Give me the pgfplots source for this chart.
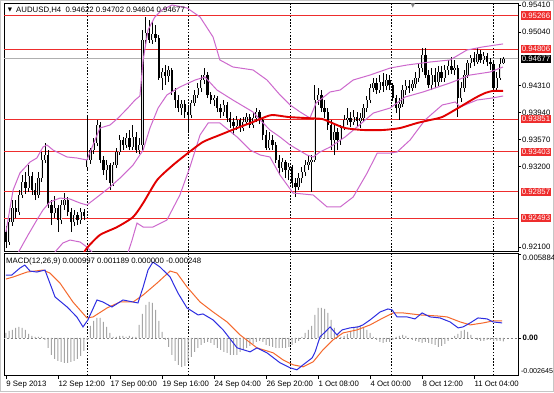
\documentclass[border=0pt]{standalone}
\usepackage{fontspec}
\setmainfont{Liberation Sans}
\newfontfamily\symfont{DejaVu Sans}
\usepackage{pgfplots}
\usepackage{pgfplotstable}
\pgfplotsset{compat=1.18}
\definecolor{bb}{RGB}{205,105,205}
\definecolor{ma}{RGB}{225,0,0}
\definecolor{lvl}{RGB}{238,45,45}
\definecolor{macdblue}{RGB}{45,45,225}
\definecolor{sig}{RGB}{245,105,45}
\definecolor{hist}{RGB}{165,165,165}
\definecolor{bidgray}{RGB}{175,175,175}
\newcommand{\lab}{\fontsize{7.8}{9}\selectfont}

\pgfplotstableread{
i o h l c
0 0.92305 0.92387 0.92086 0.92168
1 0.92168 0.92496 0.92127 0.92441
2 0.92441 0.92742 0.92387 0.92633
3 0.92633 0.92742 0.92496 0.92578
4 0.92578 0.92879 0.92537 0.92811
5 0.92811 0.93084 0.92769 0.92989
6 0.92989 0.93125 0.92824 0.92907
7 0.92907 0.93221 0.92852 0.93071
8 0.93071 0.93125 0.92811 0.92879
9 0.92879 0.92975 0.92742 0.92811
10 0.92811 0.93125 0.92769 0.93043
11 0.93043 0.93399 0.92989 0.93290
12 0.93290 0.93522 0.93249 0.93358
13 0.93358 0.93426 0.92633 0.92674
14 0.92674 0.92742 0.92400 0.92564
15 0.92564 0.92797 0.92496 0.92633
16 0.92633 0.92674 0.92305 0.92469
17 0.92469 0.92742 0.92414 0.92674
18 0.92674 0.92838 0.92606 0.92742
19 0.92742 0.92783 0.92523 0.92578
20 0.92578 0.92633 0.92305 0.92441
21 0.92441 0.92606 0.92387 0.92537
22 0.92537 0.92578 0.92400 0.92469
23 0.92469 0.92633 0.92414 0.92578
24 0.92578 0.92619 0.92469 0.92523
25 0.93194 0.93878 0.93153 0.93290
26 0.93290 0.93454 0.93235 0.93426
27 0.93426 0.93591 0.93372 0.93522
28 0.93522 0.93837 0.93481 0.93768
29 0.93768 0.93809 0.93249 0.93290
30 0.93290 0.93344 0.93084 0.93153
31 0.93153 0.93290 0.93016 0.93221
32 0.93221 0.93249 0.92879 0.92975
33 0.92975 0.93262 0.92934 0.93221
34 0.93221 0.93454 0.93180 0.93399
35 0.93399 0.93632 0.93358 0.93563
36 0.93563 0.93604 0.93426 0.93495
37 0.93495 0.93659 0.93454 0.93591
38 0.93591 0.93700 0.93426 0.93467
39 0.93467 0.93768 0.93426 0.93604
40 0.93604 0.93673 0.93385 0.93426
41 0.93426 0.93591 0.93372 0.93495
42 0.93495 0.95068 0.93426 0.94931
43 0.94931 0.95246 0.94863 0.95027
44 0.95027 0.95205 0.94890 0.94931
45 0.94931 0.95177 0.94877 0.95013
46 0.95013 0.95136 0.94904 0.94959
47 0.94959 0.95000 0.94384 0.94411
48 0.94411 0.94548 0.94247 0.94493
49 0.94493 0.94589 0.94316 0.94439
50 0.94439 0.94575 0.94357 0.94521
51 0.94521 0.94548 0.94179 0.94220
52 0.94220 0.94274 0.94001 0.94110
53 0.94110 0.94179 0.93946 0.94001
54 0.94001 0.94110 0.93905 0.94056
55 0.94056 0.94110 0.93864 0.93946
56 0.93946 0.94042 0.93673 0.93905
57 0.93905 0.94110 0.93864 0.94069
58 0.94069 0.94247 0.94028 0.94179
59 0.94179 0.94343 0.94137 0.94274
60 0.94274 0.94452 0.94220 0.94384
61 0.94384 0.94548 0.94329 0.94452
62 0.94452 0.94493 0.94137 0.94179
63 0.94179 0.94220 0.94056 0.94110
64 0.94110 0.94179 0.94028 0.94137
65 0.94137 0.94165 0.93946 0.94001
66 0.94001 0.94056 0.93864 0.93946
67 0.93946 0.94110 0.93892 0.94042
68 0.94042 0.94083 0.93809 0.93864
69 0.93864 0.93946 0.93727 0.93809
70 0.93809 0.93864 0.93632 0.93755
71 0.93755 0.93892 0.93700 0.93837
72 0.93837 0.93864 0.93673 0.93727
73 0.93727 0.93878 0.93686 0.93809
74 0.93809 0.93932 0.93768 0.93878
75 0.93878 0.93919 0.93727 0.93768
76 0.93768 0.93946 0.93727 0.93864
77 0.93864 0.94001 0.93809 0.93946
78 0.93946 0.93974 0.93782 0.93837
79 0.93837 0.93864 0.93563 0.93632
80 0.93632 0.93700 0.93426 0.93454
81 0.93454 0.93673 0.93426 0.93563
82 0.93563 0.93632 0.93426 0.93495
83 0.93495 0.93536 0.93249 0.93290
84 0.93290 0.93358 0.93084 0.93180
85 0.93180 0.93317 0.93125 0.93262
86 0.93262 0.93290 0.93043 0.93153
87 0.93153 0.93249 0.93016 0.93194
88 0.93194 0.93221 0.92907 0.92975
89 0.92975 0.93043 0.92783 0.92920
90 0.92920 0.93112 0.92879 0.93043
91 0.93043 0.93194 0.92975 0.93125
92 0.93125 0.93290 0.93071 0.93221
93 0.93221 0.93358 0.93153 0.93262
94 0.93262 0.93358 0.92852 0.93290
95 0.93290 0.94316 0.93262 0.94110
96 0.94110 0.94274 0.94042 0.94179
97 0.94179 0.94247 0.93946 0.94001
98 0.94001 0.94110 0.93864 0.93946
99 0.93946 0.94001 0.93700 0.93768
100 0.93768 0.93837 0.93426 0.93563
101 0.93563 0.93768 0.93358 0.93673
102 0.93673 0.93727 0.93426 0.93563
103 0.93563 0.93768 0.93495 0.93727
104 0.93727 0.93905 0.93700 0.93837
105 0.93837 0.94001 0.93768 0.93864
106 0.93864 0.93946 0.93741 0.93809
107 0.93809 0.93974 0.93768 0.93878
108 0.93878 0.93946 0.93755 0.93823
109 0.93823 0.93932 0.93727 0.93864
110 0.93864 0.94056 0.93809 0.94001
111 0.94001 0.94165 0.93946 0.94110
112 0.94110 0.94329 0.94069 0.94274
113 0.94274 0.94411 0.94220 0.94343
114 0.94343 0.94411 0.94192 0.94247
115 0.94247 0.94452 0.94206 0.94357
116 0.94357 0.94480 0.94220 0.94302
117 0.94302 0.94466 0.94247 0.94384
118 0.94384 0.94452 0.94247 0.94316
119 0.94316 0.94343 0.94097 0.94137
120 0.94137 0.94179 0.93932 0.94001
121 0.94001 0.94137 0.93837 0.94056
122 0.94056 0.94316 0.94015 0.94247
123 0.94247 0.94384 0.94179 0.94302
124 0.94302 0.94384 0.94206 0.94274
125 0.94274 0.94384 0.94233 0.94329
126 0.94329 0.94493 0.94274 0.94411
127 0.94411 0.94603 0.94357 0.94548
128 0.94548 0.94822 0.94493 0.94726
129 0.94726 0.94822 0.94411 0.94452
130 0.94452 0.94521 0.94274 0.94316
131 0.94316 0.94548 0.94247 0.94452
132 0.94452 0.94548 0.94274 0.94357
133 0.94357 0.94575 0.94302 0.94493
134 0.94493 0.94575 0.94357 0.94411
135 0.94411 0.94589 0.94357 0.94521
136 0.94521 0.94658 0.94452 0.94575
137 0.94575 0.94699 0.94466 0.94521
138 0.94521 0.94658 0.94452 0.94548
139 0.94548 0.94589 0.93878 0.94137
140 0.94137 0.94357 0.94083 0.94274
141 0.94274 0.94521 0.94220 0.94452
142 0.94452 0.94658 0.94411 0.94617
143 0.94617 0.94726 0.94548 0.94685
144 0.94685 0.94767 0.94575 0.94630
145 0.94630 0.94822 0.94603 0.94740
146 0.94740 0.94794 0.94617 0.94658
147 0.94658 0.94767 0.94603 0.94712
148 0.94712 0.94753 0.94575 0.94630
149 0.94630 0.94685 0.94521 0.94603
150 0.94603 0.94658 0.94220 0.94274
151 0.94274 0.94493 0.94247 0.94411
152 0.94411 0.94685 0.94384 0.94603
153 0.94622 0.94702 0.94604 0.94677
}\candles

\pgfplotstableread{
i p
0 0.92305
2.2 0.92879
4.3 0.93112
7.4 0.93262
9.5 0.93317
11.4 0.93467
12.6 0.93495
14.5 0.93426
18.8 0.93331
21.8 0.93317
24.9 0.93290
27.4 0.93563
28.9 0.93727
32 0.93768
34.5 0.93864
37.5 0.94001
39.7 0.94110
41.2 0.94165
42.2 0.94658
43.7 0.95068
45.8 0.95246
48 0.95342
51.1 0.95410
55.7 0.95369
59.7 0.95246
63.7 0.94972
65.8 0.94658
69.8 0.94562
76 0.94521
80.3 0.94384
84.3 0.94179
87.4 0.94042
90.5 0.93946
93.5 0.93864
95.4 0.94069
99.7 0.94220
102.8 0.94247
106.8 0.94384
112 0.94452
118.2 0.94548
123.4 0.94589
130.5 0.94630
136.6 0.94658
141.8 0.94794
146.5 0.94835
152.9 0.94877
}\bbupper

\pgfplotstableread{
i p
3.7 0.92017
6.8 0.92264
9.5 0.92469
11.4 0.92606
13.5 0.92715
16.6 0.92769
19.7 0.92756
22.8 0.92701
24.9 0.92674
28.9 0.92811
32 0.92920
35.1 0.93043
39.1 0.93221
42.2 0.93426
44.3 0.93727
46.8 0.94001
49.5 0.94179
53.5 0.94288
58.2 0.94384
61.2 0.94425
64.9 0.94247
69.8 0.94110
76 0.93946
78.2 0.93837
81.2 0.93700
84.3 0.93604
87.4 0.93495
92.6 0.93358
94.5 0.93331
96.6 0.93399
99.7 0.93467
104.3 0.93604
108 0.93741
113 0.93932
118.2 0.94001
122.8 0.94151
128.3 0.94220
136.6 0.94343
142.8 0.94452
148.9 0.94493
152.9 0.94562
}\bbmiddle

\pgfplotstableread{
i p
13.5 0.91900
14.8 0.92017
17.5 0.92154
19.7 0.92195
22.8 0.92168
24.9 0.92099
26.8 0.92017
30 0.91950
36 0.91950
37.5 0.92017
38.8 0.92195
40.3 0.92427
42.2 0.92373
45.2 0.92373
49.5 0.92469
53.5 0.92811
56.6 0.93194
59.7 0.93632
62.2 0.93796
65.8 0.93796
71.1 0.93604
75.1 0.93426
78.2 0.93358
81.2 0.93331
84.3 0.93084
88.3 0.92838
94.5 0.92811
98.8 0.92647
102.8 0.92647
106.8 0.92783
111.1 0.93112
114.2 0.93385
118.2 0.93385
120.3 0.93399
124.3 0.93563
128.9 0.93837
134.2 0.94042
138.2 0.94083
139.7 0.94015
144.9 0.94110
149.5 0.94137
152.9 0.94165
}\bblower

\pgfplotstableread{
i p
23.5 0.91980
24.9 0.92086
28.9 0.92264
34.2 0.92373
39.1 0.92510
42.2 0.92701
46.5 0.93016
51.4 0.93221
56 0.93385
60.6 0.93536
65.8 0.93632
71.1 0.93727
76 0.93810
78.2 0.93851
81.8 0.93905
86.8 0.93878
92 0.93864
97.2 0.93851
100.3 0.93796
104.3 0.93727
109.8 0.93700
116 0.93700
121.2 0.93727
126.5 0.93796
130.5 0.93837
134.2 0.93878
139.1 0.94001
144.3 0.94138
147.4 0.94206
149.8 0.94234
152.9 0.94234
}\mavg

\pgfplotstableread{
i v
0 0.00440
1.8 0.00441
4.3 0.00490
5.8 0.00511
7.4 0.00469
9.5 0.00462
12 0.00476
13.5 0.00385
15.1 0.00287
18.8 0.00217
21.8 0.00147
23.7 0.00077
25.2 0.00126
28 0.00266
29.8 0.00252
32.6 0.00217
36 0.00266
40.6 0.00245
42.2 0.00357
43.7 0.00476
45.2 0.00532
47.4 0.00497
50.5 0.00427
52.9 0.00315
55.7 0.00210
59.1 0.00161
60.6 0.00168
63.7 0.00126
66.8 0.00056
71.1 -0.00070
75.1 -0.00098
77.2 -0.00070
80.3 -0.00105
84.3 -0.00175
87.4 -0.00210
89.5 -0.00224
91.4 -0.00189
94.2 -0.00140
95.1 -0.00098
96.6 0.00007
98.2 0.00042
99.7 0.00077
101.8 0.00021
103.4 0.00056
105.8 0.00070
108.3 0.00077
109.8 0.00091
112 0.00126
115.1 0.00182
117.5 0.00203
118.8 0.00196
120.3 0.00147
123.4 0.00147
125.8 0.00133
128 0.00175
130.5 0.00147
133.5 0.00140
136.6 0.00112
139.1 0.00070
140.6 0.00077
142.8 0.00105
145.2 0.00140
148 0.00133
149.8 0.00112
152.6 0.00105
}\macdmain

\pgfplotstableread{
i v
0 0.00413
2.2 0.00427
6.5 0.00462
11.4 0.00476
13.5 0.00455
16.6 0.00385
20.6 0.00252
24.9 0.00140
26.8 0.00147
31.1 0.00210
35.1 0.00252
39.1 0.00252
42.2 0.00301
46.5 0.00385
50.5 0.00469
52.6 0.00455
55.7 0.00357
59.7 0.00252
63.7 0.00182
68 0.00112
72 0.00021
77.2 -0.00070
82.2 -0.00105
85.2 -0.00154
88.3 -0.00189
91.4 -0.00203
94.5 -0.00168
97.5 -0.00084
100.6 -0.00014
103.7 0.00035
108 0.00056
112 0.00091
116 0.00140
119.1 0.00175
122.2 0.00175
127.4 0.00161
132.6 0.00154
135.7 0.00147
139.7 0.00112
142.8 0.00091
146.8 0.00105
149.8 0.00119
152.6 0.00119
}\macdsig

\pgfplotstableread{
i v
0 0.00035
1 0.00049
2 0.00056
3 0.00070
4 0.00077
5 0.00070
6 0.00056
7 0.00028
8 0.00014
9 0.00007
10 0.00007
11 0.00007
12 -0.00014
13 -0.00070
14 -0.00119
15 -0.00147
16 -0.00161
17 -0.00168
18 -0.00175
19 -0.00175
20 -0.00168
21 -0.00161
22 -0.00147
23 -0.00126
24 -0.00091
25 -0.00014
26 0.00084
27 0.00119
28 0.00140
29 0.00140
30 0.00112
31 0.00077
32 0.00035
33 0.00007
34 0.00007
35 0.00014
36 0.00014
37 0.00007
38 0.00014
39 0.00007
40 0.00007
41 0.00091
42 0.00168
43 0.00231
44 0.00252
45 0.00245
46 0.00196
47 0.00119
48 0.00042
49 -0.00014
50 -0.00063
51 -0.00119
52 -0.00161
53 -0.00189
54 -0.00203
55 -0.00196
56 -0.00168
57 -0.00133
58 -0.00098
59 -0.00070
60 -0.00049
61 -0.00035
62 -0.00028
63 -0.00035
64 -0.00049
65 -0.00070
66 -0.00084
67 -0.00098
68 -0.00105
69 -0.00119
70 -0.00119
71 -0.00119
72 -0.00098
73 -0.00084
74 -0.00070
75 -0.00056
76 -0.00042
77 -0.00028
78 -0.00021
79 -0.00028
80 -0.00049
81 -0.00056
82 -0.00063
83 -0.00070
84 -0.00070
85 -0.00070
86 -0.00070
87 -0.00063
88 -0.00049
89 -0.00035
90 -0.00021
91 0.00007
92 0.00035
93 0.00056
94 0.00084
95 0.00161
96 0.00210
97 0.00210
98 0.00203
99 0.00175
100 0.00126
101 0.00070
102 0.00028
103 0.00007
104 0.00014
105 0.00028
106 0.00049
107 0.00070
108 0.00084
109 0.00084
110 0.00070
111 0.00056
112 0.00035
113 0.00007
114 -0.00014
115 -0.00028
116 -0.00035
117 -0.00028
118 -0.00028
119 -0.00014
120 0.00007
121 0.00014
122 0.00021
123 0.00014
124 0.00000
125 -0.00014
126 -0.00021
127 -0.00028
128 -0.00035
129 -0.00028
130 -0.00035
131 -0.00042
132 -0.00049
133 -0.00063
134 -0.00056
135 -0.00042
136 -0.00021
137 0.00000
138 0.00014
139 0.00028
140 0.00049
141 0.00056
142 0.00042
143 0.00021
144 0.00000
145 -0.00014
146 -0.00021
147 -0.00021
148 -0.00014
149 -0.00014
150 -0.00021
151 -0.00021
152 -0.00021
153 -0.00025
}\hist

\pgfplotsset{
  mt/.style={
    scale only axis, width=514pt, anchor=south west,
    xmin=-0.6, xmax=157.5,
    axis line style={line width=0.8pt},
    tick style={black, line width=0.6pt},
    tick align=outside, major tick length=3pt,
    ytick pos=right, yticklabel pos=right,
    scaled y ticks=false,
    yticklabel style={font=\lab, anchor=west, inner sep=1pt},
    extra x ticks={24.9,56,87.4,118.5,149.8},
    extra x tick labels={},
    extra x tick style={grid=major, major tick length=0pt,
      major grid style={black, line width=0.6pt, dash pattern=on 1.6pt off 1.6pt}},
  },
  wick/.style={draw=none, mark=none, forget plot,
    error bars/.cd, y dir=plus, y explicit, error mark=none,
    error bar style={draw=black, solid, line width=0.8pt}},
  body/.style={draw=none, mark=none, forget plot,
    error bars/.cd, y dir=plus, y explicit, error mark=none,
    error bar style={draw=#1, solid, line width=2.4pt}},
}

\begin{document}
\begin{tikzpicture}
\useasboundingbox (0pt,0pt) rectangle (554pt,392pt);
\fill[white] (0pt,0pt) rectangle (554pt,392pt);
\draw[gray!45, line width=1pt] (0.5pt,0.5pt) rectangle (553.5pt,391.5pt);

% ---------------- main price panel ----------------
\begin{axis}[mt, at={(4pt,141pt)}, height=248pt,
  ymin=0.92045, ymax=0.95437,
  xtick=\empty,
  ytick={0.95410,0.95040,0.94310,0.93940,0.93570,0.93200,0.92100},
  yticklabels={0.95410,0.95040,0.94310,0.93940,0.93570,0.93200,0.92100},
]
\addplot[lvl, line width=0.9pt, forget plot] coordinates {(-1,0.95266) (160,0.95266)};
\addplot[lvl, line width=0.9pt, forget plot] coordinates {(-1,0.94806) (160,0.94806)};
\addplot[lvl, line width=0.9pt, forget plot] coordinates {(-1,0.93851) (160,0.93851)};
\addplot[lvl, line width=0.9pt, forget plot] coordinates {(-1,0.93403) (160,0.93403)};
\addplot[lvl, line width=0.9pt, forget plot] coordinates {(-1,0.92857) (160,0.92857)};
\addplot[lvl, line width=0.9pt, forget plot] coordinates {(-1,0.92493) (160,0.92493)};
\addplot[bidgray, line width=0.9pt, forget plot] coordinates {(-1,0.94677) (160,0.94677)};

% candles: wicks, bodies
\addplot[wick] table[x=i, y=l, y error expr=\thisrow{h}-\thisrow{l}] \candles;
\addplot[restrict expr to domain={\thisrow{c}-\thisrow{o}}{0:1}, body=black]
  table[x=i, y=o, y error expr=\thisrow{c}-\thisrow{o}] \candles;
\addplot[restrict expr to domain={\thisrow{o}-\thisrow{c}}{0:1}, body=black]
  table[x=i, y=c, y error expr=\thisrow{o}-\thisrow{c}] \candles;
\addplot[draw=none, mark=none, forget plot,
  restrict expr to domain={\thisrow{c}-\thisrow{o}}{0.00015:1},
  error bars/.cd, y dir=plus, y explicit, error mark=none,
  error bar style={draw=white!80!gray, solid, line width=0.9pt}]
  table[x=i, y=o, y error expr=\thisrow{c}-\thisrow{o}] \candles;

% Bollinger bands and moving average
\addplot[bb, line width=1pt, forget plot] table[x=i, y=p] \bbupper;
\addplot[bb, line width=1pt, forget plot] table[x=i, y=p] \bbmiddle;
\addplot[bb, line width=1pt, forget plot] table[x=i, y=p] \bblower;
\addplot[ma, line width=1.9pt, smooth, tension=0.4, forget plot] table[x=i, y=p] \mavg;

\coordinate (R1) at (axis cs:157.5,0.95266);
\coordinate (R2) at (axis cs:157.5,0.94806);
\coordinate (R3) at (axis cs:157.5,0.94677);
\coordinate (R4) at (axis cs:157.5,0.93851);
\coordinate (R5) at (axis cs:157.5,0.93403);
\coordinate (R6) at (axis cs:157.5,0.92857);
\coordinate (R7) at (axis cs:157.5,0.92493);
\end{axis}

% ---------------- MACD panel ----------------
\begin{axis}[mt, at={(4pt,16.5pt)}, height=122pt,
  ymin=-0.00264, ymax=0.00592,
  xtick={0,16,32,48,64,80,96,112,128,144},
  xticklabels={9 Sep 2013,12 Sep 12:00,17 Sep 00:00,19 Sep 16:00,24 Sep 04:00,26 Sep 20:00,1 Oct 08:00,4 Oct 00:00,8 Oct 12:00,11 Oct 04:00},
  xtick pos=left,
  xticklabel style={font=\lab, anchor=north west, xshift=-3pt, yshift=1pt},
  ytick={0.005884,0,-0.002645},
  yticklabels={},
]
\addplot[gray, line width=0.6pt, dash pattern=on 2pt off 2pt, forget plot] coordinates {(-1,0) (160,0)};
\addplot[ybar, bar width=1pt, fill=hist, draw=none, forget plot] table[x=i, y=v] \hist;
\addplot[sig, line width=1pt, forget plot] table[x=i, y=v] \macdsig;
\addplot[macdblue, line width=1pt, forget plot] table[x=i, y=v] \macdmain;
\coordinate (M1) at (axis cs:157.5,0.005884);
\coordinate (M2) at (axis cs:157.5,0);
\coordinate (M3) at (axis cs:157.5,-0.002645);
\end{axis}

% ---------------- right-side boxed labels ----------------
\tikzset{boxlab/.style={anchor=west, text=white, font=\lab, inner xsep=1.2pt, inner ysep=1.3pt}}
\node[boxlab, fill=lvl] at ([xshift=2.5pt]R1) {0.95266};
\node[boxlab, fill=lvl] at ([xshift=2.5pt]R2) {0.94806};
\node[boxlab, fill=black] at ([xshift=2.5pt]R3) {0.94677};
\node[boxlab, fill=lvl] at ([xshift=2.5pt]R4) {0.93851};
\node[boxlab, fill=lvl] at ([xshift=2.5pt]R5) {0.93403};
\node[boxlab, fill=lvl] at ([xshift=2.5pt]R6) {0.92857};
\node[boxlab, fill=lvl] at ([xshift=2.5pt]R7) {0.92493};

\node[anchor=west, font=\lab, inner sep=1pt] at ([xshift=3.5pt,yshift=-4pt]M1) {0.005884};
\node[anchor=west, font=\lab\bfseries, inner sep=1pt] at ([xshift=3.5pt]M2) {0.00};
\node[anchor=west, font=\fontsize{7.1}{8}\selectfont, inner sep=0.5pt] at ([xshift=2.3pt,yshift=5pt]M3) {-0.002645};

% ---------------- titles ----------------
\node[anchor=center, font=\symfont\fontsize{5.5}{6}\selectfont] at (10pt,382pt) {▼};
\node[anchor=west, font=\lab, inner sep=0pt] at (16pt,382pt) {AUDUSD,H4\ \ 0.94622 0.94702 0.94604 0.94677};
\node[anchor=center, text=gray, font=\symfont\fontsize{6}{6}\selectfont] at (413pt,386.5pt) {▼};
\node[anchor=west, font=\lab, inner sep=0pt] at (6pt,131pt) {MACD(12,26,9) 0.000997 0.001189 0.000000 -0.000248};
\end{tikzpicture}
\end{document}
